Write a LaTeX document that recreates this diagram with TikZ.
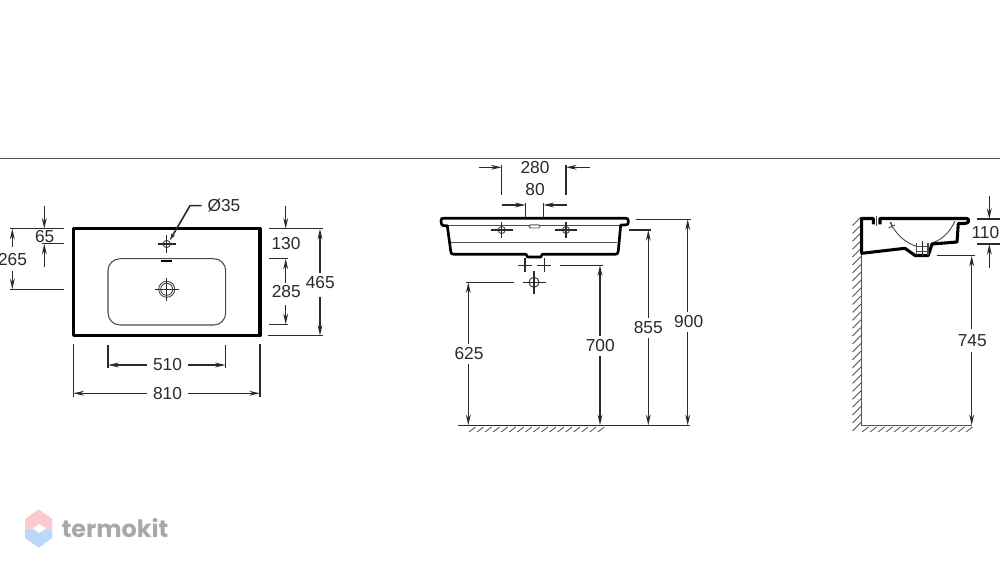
\documentclass[tikz,border=0pt]{standalone}
\usepackage{fontspec}
\setmainfont{Liberation Sans}
\newfontfamily\wmfont{Poppins}
\usetikzlibrary{arrows.meta}
\definecolor{ink}{HTML}{2A2A2A}
\definecolor{wmpink}{HTML}{FBC9CE}
\definecolor{wmblue}{HTML}{BDD7F8}
\definecolor{wmtext}{HTML}{A8A8A8}
\tikzset{
  dim/.style={draw=ink,line width=1pt},
  arr/.style={dim,-{Stealth[length=8pt,width=3.6pt]}},
  thin part/.style={draw=ink!85,line width=0.7pt},
  body/.style={draw=black,line width=2.3pt,line join=round},
  hatch/.style={draw=ink!80,line width=0.65pt},
  lab/.style={text=ink,font=\fontsize{13}{15}\selectfont,inner sep=0pt},
}
\begin{document}
\begin{tikzpicture}[x=0.75pt,y=-0.75pt]
\useasboundingbox (0,0) rectangle (1000,573);
\begin{scope}
\clip (0,0) rectangle (1000,573);
\draw[draw=ink!80,line width=0.7pt] (0,158.5) -- (1000,158.5);

% ---------- top view ----------
\draw[body] (73.3,228.7) rectangle (260,335.7);
\draw[draw=ink!85,line width=0.8pt,rounded corners=9pt] (108,258.7) rectangle (225.7,325);
\draw[draw=black,line width=1.4pt] (161,261) -- (172,261);
\draw[thin part] (166.7,244) circle (3.6);
\draw[dim] (157.5,244) -- (176,244) (166.7,235) -- (166.7,253);
\draw[thin part] (166.7,289.3) circle (8) circle (6);
\draw[dim] (155,289.3) -- (178.5,289.3) (166.7,278) -- (166.7,301);
\draw[dim,line width=1.2pt,-{Stealth[length=5pt,width=3pt]}] (201.7,205.7) -- (190,205.7) -- (170,240);
\node[lab] (dia) at (224,206) {Ø35};

% left dims
\draw[dim] (10,228.7) -- (64,228.7) (41.7,243.7) -- (64,243.7) (10,289.3) -- (64,289.3);
\draw[arr] (44.3,205.7) -- (44.3,228.7);
\draw[arr] (44.3,267) -- (44.3,243.7);
\node[lab] (t65) at (44.7,236.7) {65};
\draw[arr] (12.3,247) -- (12.3,228.7);
\draw[arr] (12.3,271.5) -- (12.3,289.3);
\node[lab] (t265) at (12.5,259.8) {265};

% right dims
\draw[dim] (268.7,228.7) -- (322.7,228.7) (269.3,258.7) -- (288.3,258.7)
  (269.3,324.3) -- (288.3,324.3) (268.3,335.7) -- (322.7,335.7);
\draw[arr] (285.7,205.7) -- (285.7,228.7);
\node[lab] (t130) at (286,244) {130};
\draw[arr] (285.7,283) -- (285.7,258.7);
\node[lab] (t285) at (286.3,291.7) {285};
\draw[arr] (285.7,305) -- (285.7,324.3);
\draw[arr] (320,273) -- (320,228.7);
\node[lab] (t465) at (320.3,282.7) {465};
\draw[arr] (320,296.7) -- (320,335.7);

% bottom dims
\draw[dim] (108,345) -- (108,368.3) (225.7,345) -- (225.7,368.3)
  (73.3,344) -- (73.3,396.7) (260,344) -- (260,396.7);
\draw[arr] (146.7,365) -- (108,365);
\draw[arr] (187.7,365) -- (225.7,365);
\node[lab] (t510) at (167.5,365) {510};
\draw[arr] (146.7,393.3) -- (73.3,393.3);
\draw[arr] (187.7,393.3) -- (260,393.3);
\node[lab] (t810) at (167.5,393.3) {810};

% ---------- front view ----------
\draw[thin part] (447,225.7) -- (621,225.7) (451,242.7) -- (617,242.7);
\draw[body,line width=2pt] (447.3,225.7) -- (444,225.7) .. controls (441,225.7) and (441,222) .. (441,220.5)
  .. controls (441,218.3) and (442,218.3) .. (444,218.3) -- (625.5,218.3)
  .. controls (628,218.3) and (628.3,219) .. (628.3,221) .. controls (628.3,224.5) and (627.5,225) .. (625,225) -- (620.7,225)
  -- (618.3,251) .. controls (618,254) and (617,254.3) .. (615,254.3) -- (542.3,254.3) -- (540.7,257) -- (527.5,257) -- (526,254.3)
  -- (454,254.3) .. controls (451.5,254.3) and (450.8,253.5) .. (450.7,251) -- cycle;
\draw[draw=ink!80,line width=0.7pt,fill=white,rounded corners=1pt] (529,224.8) rectangle (540,228);
\foreach \cx in {501.7,566}{
  \draw[thin part] (\cx,230) circle (3.5);
  \draw[dim] (\cx-11,230) -- (\cx+11,230) (\cx,222.5) -- (\cx,238);
}
\foreach \cx in {525,544.3}{
  \draw[dim] (\cx-7,265.3) -- (\cx+7,265.3) (\cx,258.5) -- (\cx,272.5);
}
\draw[thin part,line width=0.8pt] (534,282.3) circle (5);
\draw[dim] (522.5,282.3) -- (545.5,282.3) (534,271) -- (534,294);

\draw[dim] (501.7,165) -- (501.7,195) (566,165) -- (566,195)
  (525.7,202.7) -- (525.7,218) (543.3,202.7) -- (543.3,218);
\draw[arr] (479,167.3) -- (501.7,167.3);
\draw[arr] (589.5,167.3) -- (566,167.3);
\node[lab] (t280) at (535,167.7) {280};
\draw[arr] (502,205) -- (525.7,205);
\draw[arr] (566.7,205) -- (543.3,205);
\node[lab] (t80) at (535,190) {80};

\draw[dim] (457.7,425.3) -- (690,425.3);
\draw[dim] (466,282.3) -- (514,282.3) (560,265.3) -- (602.7,265.3)
  (629.3,230) -- (650.7,230) (635.7,219.3) -- (691,219.3);
\draw[arr] (468.3,344) -- (468.3,282.3);
\draw[arr] (468.3,364) -- (468.3,425.3);
\node[lab] (t625) at (469,354) {625};
\draw[arr] (600,336) -- (600,265.3);
\draw[arr] (600,356) -- (600,425.3);
\node[lab] (t700) at (600.3,346) {700};
\draw[arr] (648.3,318) -- (648.3,230);
\draw[arr] (648.3,338) -- (648.3,425.3);
\node[lab] (t855) at (648.3,328) {855};
\draw[arr] (687.7,312) -- (687.7,219.3);
\draw[arr] (687.7,332) -- (687.7,425.3);
\node[lab] (t900) at (688.7,322) {900};
\foreach \i in {0,...,16}{
  \draw[hatch] ({469+8.05*\i},432) -- ({475.5+8.05*\i},427);
}

% ---------- side view ----------
\draw[draw=ink!80,line width=0.9pt] (861.7,253) -- (861.7,425.3) -- (971.7,425.3);
\foreach \i in {0,...,26}{
  \draw[hatch] (861,{217+7.9*\i}) -- (852.5,{225.5+7.9*\i});
}
\foreach \i in {0,...,13}{
  \draw[hatch] ({862+8*\i},432) -- ({868.5+8*\i},427);
}
\draw[thin part] (890,222) .. controls (896,235) and (906,243) .. (916.7,246.5);
\draw[thin part] (931.7,243) .. controls (942,240) and (950,232) .. (955,221);
\draw[thin part] (888.5,228) -- (895,225) (891,222.5) -- (892.5,226.5);
\draw[body] (873.3,224.5) -- (873.3,218.5) -- (861.7,218.5) -- (861.7,253.3) -- (905,248.3) -- (915,255.5)
  -- (928.3,255.5) -- (932,244) -- (957,242) -- (958.3,223.5) -- (965,223.5)
  .. controls (968,223.5) and (969,222) .. (968.6,220) .. controls (968.3,218.7) and (967,218.5) .. (966,218.5)
  -- (880,218.5) -- (880,224.5);
\draw[thin part,line width=0.8pt] (876.7,216.5) -- (876.7,226) (916.7,243) -- (916.7,255) (928,243) -- (928,255)
  (916,246.7) -- (929,246.7) (916,251.7) -- (929,251.7);
\draw[dim] (922.3,241.5) -- (922.3,257.5);

\draw[dim] (977.3,219) -- (1000,219) (977.3,244) -- (1000,244) (936.7,255.7) -- (975,255.7);
\draw[arr] (989.3,196) -- (989.3,219);
\draw[arr] (989.3,268) -- (989.3,244);
\node[lab,anchor=east] (t110) at (999.5,232.5) {110};
\draw[arr] (971.7,329.5) -- (971.7,255.7);
\draw[arr] (971.7,352) -- (971.7,425.3);
\node[lab] (t745) at (972.3,340.7) {745};

% ---------- watermark ----------
\fill[wmblue] (25,528.5) -- (25,538) -- (38.7,547.7) -- (52.3,538) -- (52.3,528.5) -- cycle;
\fill[wmpink] (25,528.5) -- (25,519) -- (38.7,509.3) -- (52.3,519) -- (52.3,528.5) -- cycle;
\fill[white] (32.7,528.5) -- (39.3,524) -- (46,528.5) -- (39.3,533) -- cycle;
\node[anchor=west,inner sep=0pt,text=wmtext] (wm) at (61.5,528)
  {\resizebox{80pt}{!}{\wmfont\bfseries termokit}};
\end{scope}
\end{tikzpicture}
\end{document}
